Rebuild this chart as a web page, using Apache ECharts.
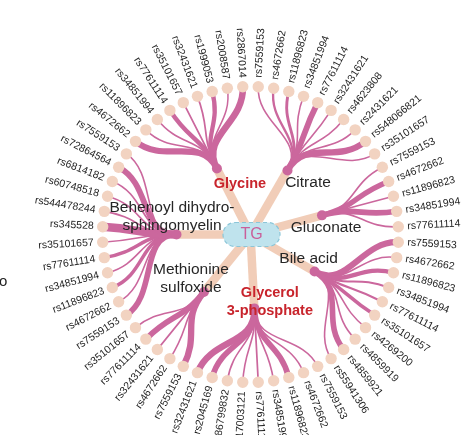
<!DOCTYPE html>
<html>
<head>
<meta charset="utf-8">
<script src="https://cdn.jsdelivr.net/npm/echarts@6/dist/echarts.min.js"></script>
<style>
  html, body { margin: 0; padding: 0; background: #fff; }
  #chart { width: 465px; height: 435px; }
</style>
</head>
<body>
<div id="chart"></div>
<script>
// Metabolites linking TG to the SNPs, listed clockwise from the upper left
const metabolites = [
  'Glycine',
  'Citrate',
  'Gluconate',
  'Bile acid',
  'Glycerol\n3-phosphate',
  'Methionine\nsulfoxide',
  'Behenoyl dihydro-\nsphingomyelin'
];

// SNPs attached to each metabolite (clockwise) and their effect weights
const glycineSnps = ['rs4672662', 'rs11896823', 'rs34851994', 'rs77611114', 'rs35101657', 'rs32431621', 'rs1999053', 'rs2008587', 'rs2867014'];
const glycineEffects = [0.68, 0.03, 0.04, 0.45, 0.06, 0.06, 0.42, 0.03, 0.72];

const citrateSnps = ['rs7559153', 'rs4672662', 'rs11896823', 'rs34851994', 'rs77611114', 'rs32431621', 'rs4623808', 'rs2431621', 'rs548066821', 'rs35101657'];
const citrateEffects = [0.04, 0.14, 0.22, 0.04, 0.62, 0.05, 0.04, 0.04, 0.7, 0.04];

const gluconateSnps = ['rs7559153', 'rs4672662', 'rs11896823', 'rs34851994', 'rs77611114'];
const gluconateEffects = [0.05, 0.58, 0.05, 0.6, 0.05];

const bileAcidSnps = ['rs7559153', 'rs4672662', 'rs11896823', 'rs34851994', 'rs77611114', 'rs35101657', 'rs4269200', 'rs4859919', 'rs4859921', 'rs55941306'];
const bileAcidEffects = [0.68, 0.04, 0.42, 0.1, 0.12, 0.32, 0.04, 0.04, 0.6, 0.04];

const glycerolSnps = ['rs7559153', 'rs4672662', 'rs11896823', 'rs34851994', 'rs77611114', 'rs17003121', 'rs186799832', 'rs2045169', 'rs32431621'];
const glycerolEffects = [0.04, 0.04, 0.6, 0.04, 0.06, 0.04, 0.04, 0.6, 0.72];

const methionineSnps = ['rs7559153', 'rs4672662', 'rs32431621', 'rs77611114', 'rs35101657'];
const methionineEffects = [0.7, 0.04, 0.08, 0.6, 0.04];

const behenoylSnps = ['rs7559153', 'rs4672662', 'rs11896823', 'rs34851994', 'rs77611114', 'rs35101657', 'rs345528', 'rs544478244', 'rs60748518', 'rs6814182', 'rs72864564', 'rs7559153'];
const behenoylEffects = [0.6, 0.04, 0.3, 0.04, 0.3, 0.04, 1.0, 0.04, 0.04, 0.06, 0.62, 0.04];

const centerName = 'TG';

const snpLists = [glycineSnps, citrateSnps, gluconateSnps, bileAcidSnps, glycerolSnps, methionineSnps, behenoylSnps];
const effectLists = [glycineEffects, citrateEffects, gluconateEffects, bileAcidEffects, glycerolEffects, methionineEffects, behenoylEffects];

// Flatten into slots around the circle: each SNP owns one angular slot,
// each metabolite sits at the middle of its SNPs' slots.
const leafData = [];
const leafNames = [];
const nodeData = [];
let slot = 0;
snpLists.forEach(function (snps, gi) {
  const first = slot;
  snps.forEach(function (snp, k) {
    leafData.push([2, slot + 0.5, gi, effectLists[gi][k]]);
    leafNames.push(snp);
    slot++;
  });
  nodeData.push([1, (first + slot) / 2, gi]);
});
const slotCount = slot;

// Styling
const FONT = '"Liberation Sans", Arial, Helvetica, sans-serif';
const TRUNK = '#f1cdb8';
const PINK = '#cb679d';
const LEAF = '#f2d3c1';
const RED = '#c8242c';
const highlighted = { 'Glycine': true, 'Glycerol\n3-phosphate': true };
const labelShift = {
  'Glycine': [23, 15.5],
  'Citrate': [20.5, 12.5],
  'Gluconate': [4, 12],
  'Bile acid': [-6, -13],
  'Glycerol\n3-phosphate': [15.5, -6],
  'Methionine\nsulfoxide': [-13, -13.5],
  'Behenoyl dihydro-\nsphingomyelin': [-4.5, -17.5]
};

function widthOf(effect) { return 1.3 + effect * 7.2; }

const chart = echarts.init(document.getElementById('chart'), null, { renderer: 'canvas' });

chart.setOption({
  backgroundColor: '#fff',
  animation: false,
  polar: { center: [250.5, 234.5], radius: 148 },
  angleAxis: {
    type: 'value', min: 0, max: slotCount, startAngle: 144, clockwise: true,
    axisLine: { show: false }, axisTick: { show: false }, axisLabel: { show: false }, splitLine: { show: false }
  },
  radiusAxis: {
    type: 'value', min: 0, max: 2,
    axisLine: { show: false }, axisTick: { show: false }, axisLabel: { show: false }, splitLine: { show: false }
  },
  graphic: [{
    type: 'text', left: -1, top: 274,
    style: { text: 'o', font: '15px ' + FONT, fill: '#222' }
  }],
  series: [
    // TG to metabolite trunks
    {
      type: 'custom', coordinateSystem: 'polar', z: 1, silent: true,
      data: nodeData,
      renderItem: function (params, api) {
        const a = api.coord([0, api.value(1)]);
        const b = api.coord([1, api.value(1)]);
        return {
          type: 'line',
          shape: { x1: a[0], y1: a[1], x2: b[0], y2: b[1] },
          style: { stroke: TRUNK, lineWidth: 8.5, lineCap: 'butt' }
        };
      }
    },
    // Metabolite to SNP links
    {
      type: 'custom', coordinateSystem: 'polar', z: 2, silent: true,
      data: leafData,
      renderItem: function (params, api) {
        const v = api.value(1);
        const m = nodeData[api.value(2)][1];
        const p1 = api.coord([1, m]);
        const c1 = api.coord([1.5, m]);
        const c2 = api.coord([1.5, v]);
        const p2 = api.coord([2, v]);
        return {
          type: 'bezierCurve',
          shape: { x1: p1[0], y1: p1[1], cpx1: c1[0], cpy1: c1[1], cpx2: c2[0], cpy2: c2[1], x2: p2[0], y2: p2[1] },
          style: { stroke: PINK, fill: null, lineWidth: widthOf(api.value(3)) }
        };
      }
    },
    // Metabolite nodes
    {
      type: 'custom', coordinateSystem: 'polar', z: 3, silent: true,
      data: nodeData,
      renderItem: function (params, api) {
        const p = api.coord([1, api.value(1)]);
        return { type: 'circle', shape: { cx: p[0], cy: p[1], r: 5 }, style: { fill: PINK } };
      }
    },
    // SNP leaves with radial labels
    {
      type: 'custom', coordinateSystem: 'polar', z: 4, silent: true,
      data: leafData,
      renderItem: function (params, api) {
        const v = api.value(1);
        const o = api.coord([0, v]);
        const p = api.coord([2, v]);
        const dx = p[0] - o[0], dy = p[1] - o[1];
        const len = Math.sqrt(dx * dx + dy * dy);
        const ux = dx / len, uy = dy / len;
        let rot = Math.atan2(-dy, dx);
        let align = 'left';
        if (dx < 0) { rot += Math.PI; align = 'right'; }
        return {
          type: 'group',
          children: [
            { type: 'circle', shape: { cx: p[0], cy: p[1], r: 5.7 }, style: { fill: LEAF } },
            {
              type: 'text', x: p[0] + ux * 9, y: p[1] + uy * 9, rotation: rot,
              style: {
                text: leafNames[params.dataIndex], x: 0, y: 0,
                align: align, verticalAlign: 'middle',
                font: '10.5px ' + FONT, fill: '#1e1e1e'
              }
            }
          ]
        };
      }
    },
    // Metabolite names
    {
      type: 'custom', coordinateSystem: 'polar', z: 5, silent: true,
      data: nodeData,
      renderItem: function (params, api) {
        const p = api.coord([1, api.value(1)]);
        const name = metabolites[api.value(2)];
        const s = labelShift[name];
        const hot = highlighted[name];
        return {
          type: 'text', x: p[0] + s[0], y: p[1] + s[1],
          style: {
            text: name, align: 'center', verticalAlign: 'middle',
            font: (hot ? 'bold 14.5px ' : '15.5px ') + FONT,
            lineHeight: 18,
            fill: hot ? RED : '#262626'
          }
        };
      }
    },
    // Central TG node
    {
      type: 'custom', coordinateSystem: 'polar', z: 6, silent: true,
      data: [[0, 0]],
      renderItem: function (params, api) {
        const p = api.coord([0, 0]);
        return {
          type: 'group',
          children: [
            {
              type: 'rect',
              shape: { x: p[0] - 27.5, y: p[1] - 12, width: 57, height: 24, r: 12 },
              style: { fill: '#bfe3ed', stroke: '#8cc6d8', lineWidth: 1.2, lineDash: [4, 3] }
            },
            {
              type: 'text', x: p[0] + 1, y: p[1] + 0.5,
              style: { text: centerName, align: 'center', verticalAlign: 'middle', font: '16px ' + FONT, fill: '#c95f9a' }
            }
          ]
        };
      }
    }
  ]
});
</script>
</body>
</html>
